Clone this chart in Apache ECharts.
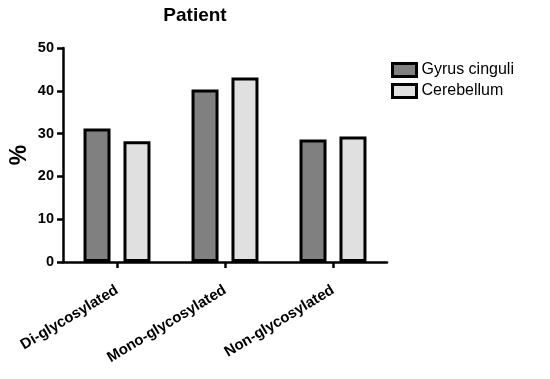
<!DOCTYPE html>
<html><head><meta charset="utf-8">
<script src="https://cdn.jsdelivr.net/npm/echarts@6/dist/echarts.min.js"></script>
<style>html,body{margin:0;padding:0;background:#fff}#c{width:550px;height:379px}</style>
</head><body><div id="c"></div>
<script>
const categories = ['Di-glycosylated', 'Mono-glycosylated', 'Non-glycosylated'];
const gyrusCinguli = [31.2, 40.3, 28.6];
const cerebellum = [28.2, 43.1, 29.3];
const yTicks = [0, 10, 20, 30, 40, 50];

const chart = echarts.init(document.getElementById('c'));
const font = 'Liberation Sans, Arial, sans-serif';
chart.setOption({
  animation: false,
  title: { text: 'Patient', left: 190, top: 1, textAlign: 'center',
    textStyle: { fontFamily: font, fontWeight: 'bold', fontSize: 19, color: '#000' } },
  legend: {
    orient: 'vertical', left: 386, top: 57, itemWidth: 24, itemHeight: 13, itemGap: 5,
    icon: 'rect',
    itemStyle: { borderWidth: 3, borderColor: '#000' },
    textStyle: { fontFamily: font, fontSize: 16, color: '#000' },
    data: ['Gyrus cinguli', 'Cerebellum']
  },
  grid: { left: 63, top: 48, width: 324, height: 214, containLabel: false, outerBoundsMode: 'none' },
  xAxis: {
    type: 'category', data: categories,
    axisLine: { lineStyle: { color: '#000', width: 2.5 } },
    axisTick: { show: true, alignWithLabel: true, length: 6, lineStyle: { color: '#000', width: 2.5 } },
    axisLabel: { rotate: 31, margin: 27, interval: 0,
      fontFamily: font, fontWeight: 'bold', fontSize: 15, color: '#000' }
  },
  yAxis: {
    type: 'value', min: yTicks[0], max: yTicks[yTicks.length - 1], interval: 10,
    name: '%', nameLocation: 'middle', nameGap: 32, nameRotate: 90, nameMoveOverlap: false,
    nameTextStyle: { fontFamily: font, fontWeight: 'bold', fontSize: 23, color: '#000' },
    splitLine: { show: false },
    axisLine: { show: true, lineStyle: { color: '#000', width: 2.5 } },
    axisTick: { show: true, length: 6, lineStyle: { color: '#000', width: 2.5 } },
    axisLabel: { margin: 9, fontFamily: font, fontWeight: 'bold', fontSize: 14.5, color: '#000' }
  },
  series: [
    { name: 'Gyrus cinguli', type: 'bar', data: gyrusCinguli, barWidth: 27, barGap: '48%',
      itemStyle: { color: '#808080', borderColor: '#000', borderWidth: 3 } },
    { name: 'Cerebellum', type: 'bar', data: cerebellum, barWidth: 27,
      itemStyle: { color: '#e0e0e0', borderColor: '#000', borderWidth: 3 } }
  ]
});
</script></body></html>
